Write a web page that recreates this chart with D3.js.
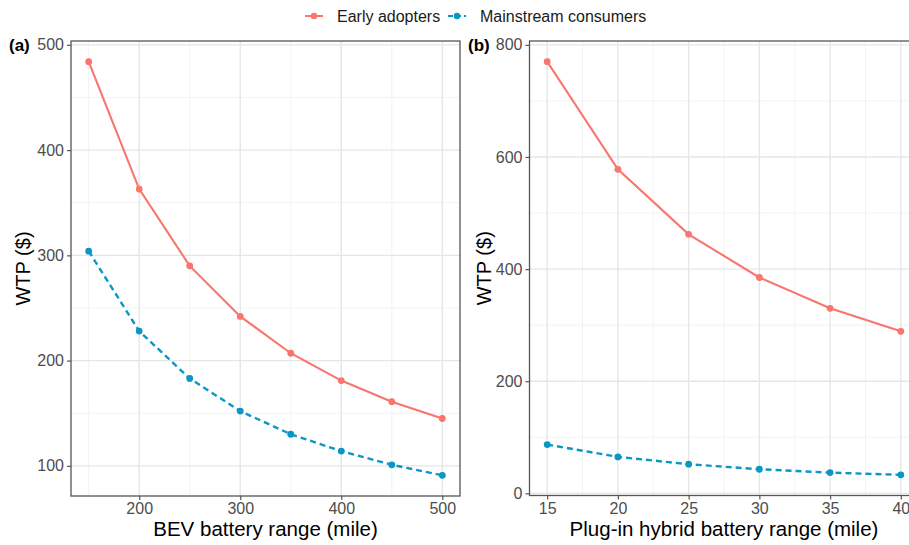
<!DOCTYPE html>
<meta charset="utf-8">
<head>
  <script src="https://d3js.org/d3.v7.min.js"></script>
  <style>
    body { margin: 0; background: #fff; }
    svg { display: block; font-family: "Liberation Sans", Arial, sans-serif; }
  </style>
</head>
<body>
<div id="my_dataviz"></div>
<script>

// data
var seriesNames = ["Early adopters", "Mainstream consumers"];
var colors = ["#F8766D", "#0A97C6"];

var bevRange = [150, 200, 250, 300, 350, 400, 450, 500];
var bevEarly = [484, 363, 290, 242, 207, 181, 161, 145];
var bevMain = [304, 228, 183, 152, 130, 114, 101, 91];

var phevRange = [15, 20, 25, 30, 35, 40];
var phevEarly = [770, 578, 462, 385, 330, 289];
var phevMain = [87, 65, 52, 43, 37, 33];

var bevXTicks = [200, 300, 400, 500];
var bevYTicks = [100, 200, 300, 400, 500];
var phevXTicks = [15, 20, 25, 30, 35, 40];
var phevYTicks = [0, 200, 400, 600, 800];

var W = 909, H = 545;
var svg = d3.select("#my_dataviz").append("svg")
  .attr("width", W).attr("height", H);

// legend
var leg = svg.append("g");
var legItems = [{ x: 305, tx: 337 }, { x: 448, tx: 480 }];
legItems.forEach(function (l, i) {
  leg.append("line")
    .attr("x1", l.x).attr("x2", l.x + 18).attr("y1", 16).attr("y2", 16)
    .attr("stroke", colors[i]).attr("stroke-width", 2)
    .attr("stroke-dasharray", i == 1 ? "5,3" : null);
  leg.append("circle").attr("cx", l.x + 9).attr("cy", 16).attr("r", 3.2).attr("fill", colors[i]);
  leg.append("text").attr("x", l.tx).attr("y", 21.5)
    .attr("font-size", 16).attr("fill", "#1a1a1a").text(seriesNames[i]);
});

function extent(lo, hi) {
  var d = (hi - lo) * 0.05;
  return [lo - d, hi + d];
}

function panel(opt) {
  var x = d3.scaleLinear().domain(opt.xdom).range([opt.left, opt.right]);
  var y = d3.scaleLinear().domain(opt.ydom).range([opt.bottom, opt.top]);
  var g = svg.append("g");

  // minor grid halfway between the breaks
  var xMinor = [], yMinor = [];
  var step = opt.xticks[1] - opt.xticks[0];
  opt.xticks.forEach(function (t) {
    [t - step / 2, t + step / 2].forEach(function (v) {
      if (v > opt.xdom[0] && v < opt.xdom[1] && xMinor.indexOf(v) < 0) xMinor.push(v);
    });
  });
  var ys = opt.yticks[1] - opt.yticks[0];
  opt.yticks.forEach(function (t) {
    [t - ys / 2, t + ys / 2].forEach(function (v) {
      if (v > opt.ydom[0] && v < opt.ydom[1] && yMinor.indexOf(v) < 0) yMinor.push(v);
    });
  });
  g.selectAll(".xminor").data(xMinor).enter().append("line")
    .attr("x1", function (d) { return x(d); }).attr("x2", function (d) { return x(d); })
    .attr("y1", opt.top).attr("y2", opt.bottom)
    .attr("stroke", "#f2f2f2").attr("stroke-width", 1);
  g.selectAll(".yminor").data(yMinor).enter().append("line")
    .attr("y1", function (d) { return y(d); }).attr("y2", function (d) { return y(d); })
    .attr("x1", opt.left).attr("x2", opt.right)
    .attr("stroke", "#f2f2f2").attr("stroke-width", 1);
  g.selectAll(".xmajor").data(opt.xticks).enter().append("line")
    .attr("x1", function (d) { return x(d); }).attr("x2", function (d) { return x(d); })
    .attr("y1", opt.top).attr("y2", opt.bottom)
    .attr("stroke", "#e6e6e6").attr("stroke-width", 1.4);
  g.selectAll(".ymajor").data(opt.yticks).enter().append("line")
    .attr("y1", function (d) { return y(d); }).attr("y2", function (d) { return y(d); })
    .attr("x1", opt.left).attr("x2", opt.right)
    .attr("stroke", "#e6e6e6").attr("stroke-width", 1.4);

  // lines and points
  var line = d3.line()
    .x(function (d) { return x(d[0]); })
    .y(function (d) { return y(d[1]); });
  opt.series.forEach(function (vals, k) {
    var pts = opt.xs.map(function (v, i) { return [v, vals[i]]; });
    g.append("path").datum(pts)
      .attr("d", line).attr("fill", "none")
      .attr("stroke", colors[k]).attr("stroke-width", k == 1 ? 2.4 : 2.1)
      .attr("stroke-dasharray", k == 1 ? "6,4" : null);
    g.selectAll(".pt" + k).data(pts).enter().append("circle")
      .attr("cx", function (d) { return x(d[0]); })
      .attr("cy", function (d) { return y(d[1]); })
      .attr("r", 3.4).attr("fill", colors[k]);
  });

  // border
  g.append("rect")
    .attr("x", opt.left).attr("y", opt.top)
    .attr("width", opt.right - opt.left).attr("height", opt.bottom - opt.top)
    .attr("fill", "none").attr("stroke", "#555").attr("stroke-width", 1.3);

  // axes
  var xAxis = g.append("g").attr("transform", "translate(0," + opt.bottom + ")")
    .call(d3.axisBottom(x).tickValues(opt.xticks).tickSize(4).tickPadding(3));
  var yAxis = g.append("g").attr("transform", "translate(" + opt.left + ",0)")
    .call(d3.axisLeft(y).tickValues(opt.yticks).tickSize(4).tickPadding(3));
  [xAxis, yAxis].forEach(function (a) {
    a.select(".domain").remove();
    a.selectAll("line").attr("stroke", "#555").attr("stroke-width", 1.2);
    a.selectAll("text").attr("fill", "#4d4d4d").attr("font-size", 16)
      .attr("font-family", "Liberation Sans, Arial, sans-serif");
  });

  // titles
  svg.append("text")
    .attr("x", (opt.left + opt.right) / 2).attr("y", 536)
    .attr("text-anchor", "middle").attr("font-size", 20.5).attr("fill", "#000")
    .text(opt.xtitle);
  svg.append("text")
    .attr("transform", "translate(" + opt.ytx + "," + ((opt.top + opt.bottom) / 2) + ") rotate(-90)")
    .attr("text-anchor", "middle").attr("font-size", 20).attr("fill", "#000")
    .text("WTP ($)");
  svg.append("text")
    .attr("x", opt.tagx).attr("y", 51)
    .attr("font-size", 17).attr("font-weight", "bold").attr("fill", "#000")
    .text(opt.tag);
}

panel({
  left: 71, right: 460, top: 41, bottom: 496,
  xdom: extent(150, 500), ydom: extent(91, 484),
  xticks: bevXTicks, yticks: bevYTicks,
  xs: bevRange, series: [bevEarly, bevMain],
  xtitle: "BEV battery range (mile)", ytx: 30, tag: "(a)", tagx: 9
});

panel({
  left: 529.5, right: 918.5, top: 41, bottom: 495.5,
  xdom: extent(15, 40), ydom: extent(33, 770),
  xticks: phevXTicks, yticks: phevYTicks,
  xs: phevRange, series: [phevEarly, phevMain],
  xtitle: "Plug-in hybrid battery range (mile)", ytx: 491, tag: "(b)", tagx: 468
});

</script>
</body>
